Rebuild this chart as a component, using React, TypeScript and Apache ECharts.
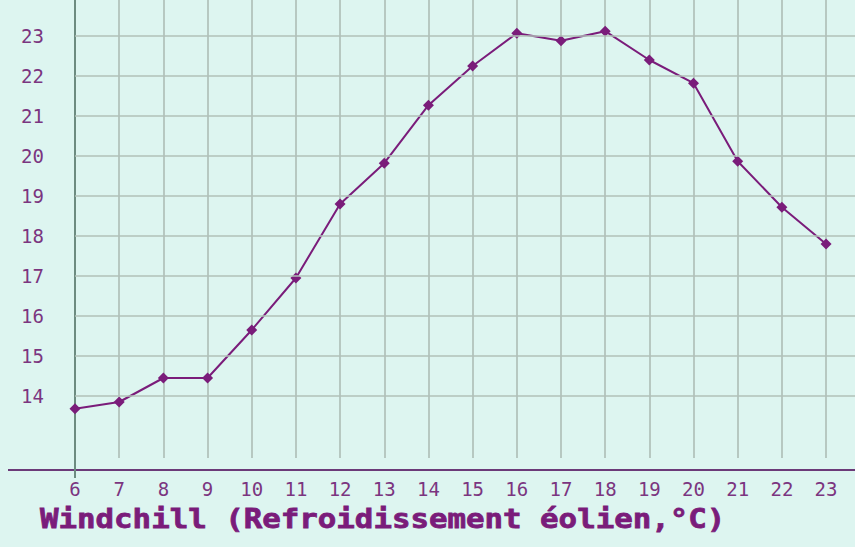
import React, { useEffect, useRef } from "react";
import * as echarts from "echarts";

const hours = [6, 7, 8, 9, 10, 11, 12, 13, 14, 15, 16, 17, 18, 19, 20, 21, 22, 23];
const windchill = [13.68, 13.85, 14.45, 14.45, 15.65, 16.95, 18.8, 19.82, 21.27, 22.25, 23.07, 22.88, 23.12, 22.4, 21.82, 19.87, 18.72, 17.8];
const yTicks = [14, 15, 16, 17, 18, 19, 20, 21, 22, 23];
const title = "Windchill (Refroidissement éolien,°C)";

const PURPLE = "#7a1c7a";
const LABEL = "#7b3580";
const GRID = "#b0c0b9";

export default function App() {
  const ref = useRef<HTMLDivElement>(null);
  useEffect(() => {
    const chart = echarts.init(ref.current!, null, { renderer: "svg" });
    chart.setOption({
      animation: false,
      backgroundColor: "#ddf5f0",
      grid: { left: 75, right: 0, top: 0, bottom: 89, containLabel: false },
      xAxis: {
        type: "value",
        min: 6,
        max: 23.655,
        interval: 1,
        offset: 12,
        axisLine: { show: true, lineStyle: { color: "#6b3a78", width: 2 } },
        axisTick: { show: false },
        axisLabel: {
          color: LABEL,
          fontFamily: "DejaVu Sans Mono",
          fontSize: 19,
          margin: 9,
          showMaxLabel: false,
          formatter: (v: number) => (hours.includes(v) ? String(v) : ""),
        },
        splitLine: { show: true, showMaxLine: false, lineStyle: { color: GRID, width: 1.7 } },
      },
      yAxis: {
        type: "value",
        min: 12.45,
        max: 23.9,
        axisLine: { show: true, lineStyle: { color: "#6d8b80", width: 2 } },
        axisTick: { show: false },
        splitLine: { show: false },
        axisLabel: {
          customValues: yTicks,
          color: LABEL,
          fontFamily: "DejaVu Sans Mono",
          fontSize: 19,
          margin: 31,
        },
      },
      graphic: [
        {
          type: "line",
          shape: { x1: 8, y1: 470, x2: 76, y2: 470 },
          style: { stroke: "#6b3a78", lineWidth: 2 },
          z: 5,
        },
        {
          type: "line",
          shape: { x1: 75, y1: 458, x2: 75, y2: 478 },
          style: { stroke: "#6d8b80", lineWidth: 2 },
          z: 5,
        },
        {
          type: "text",
          x: 40,
          y: 519,
          scaleX: 1.14,
          style: {
            text: title,
            font: "bold 27px 'DejaVu Sans Mono'",
            fill: PURPLE,
            stroke: PURPLE,
            lineWidth: 0.8,
            verticalAlign: "middle",
          },
          z: 5,
        },
      ],
      series: [
        {
          type: "line",
          data: [],
          z: 1,
          silent: true,
          markLine: {
            silent: true,
            symbol: "none",
            label: { show: false },
            lineStyle: { color: GRID, width: 1.7, type: "solid" },
            data: yTicks.map((v) => ({ yAxis: v })),
          },
        },
        {
          type: "line",
          z: 3,
          data: hours.map((h, i) => [h, windchill[i]]),
          symbol: "diamond",
          symbolSize: 11,
          itemStyle: { color: PURPLE },
          lineStyle: { color: PURPLE, width: 2 },
        },
      ],
    });
    return () => chart.dispose();
  }, []);
  return <div ref={ref} style={{ width: 855, height: 547, position: "fixed", left: 0, top: 0 }} />;
}
